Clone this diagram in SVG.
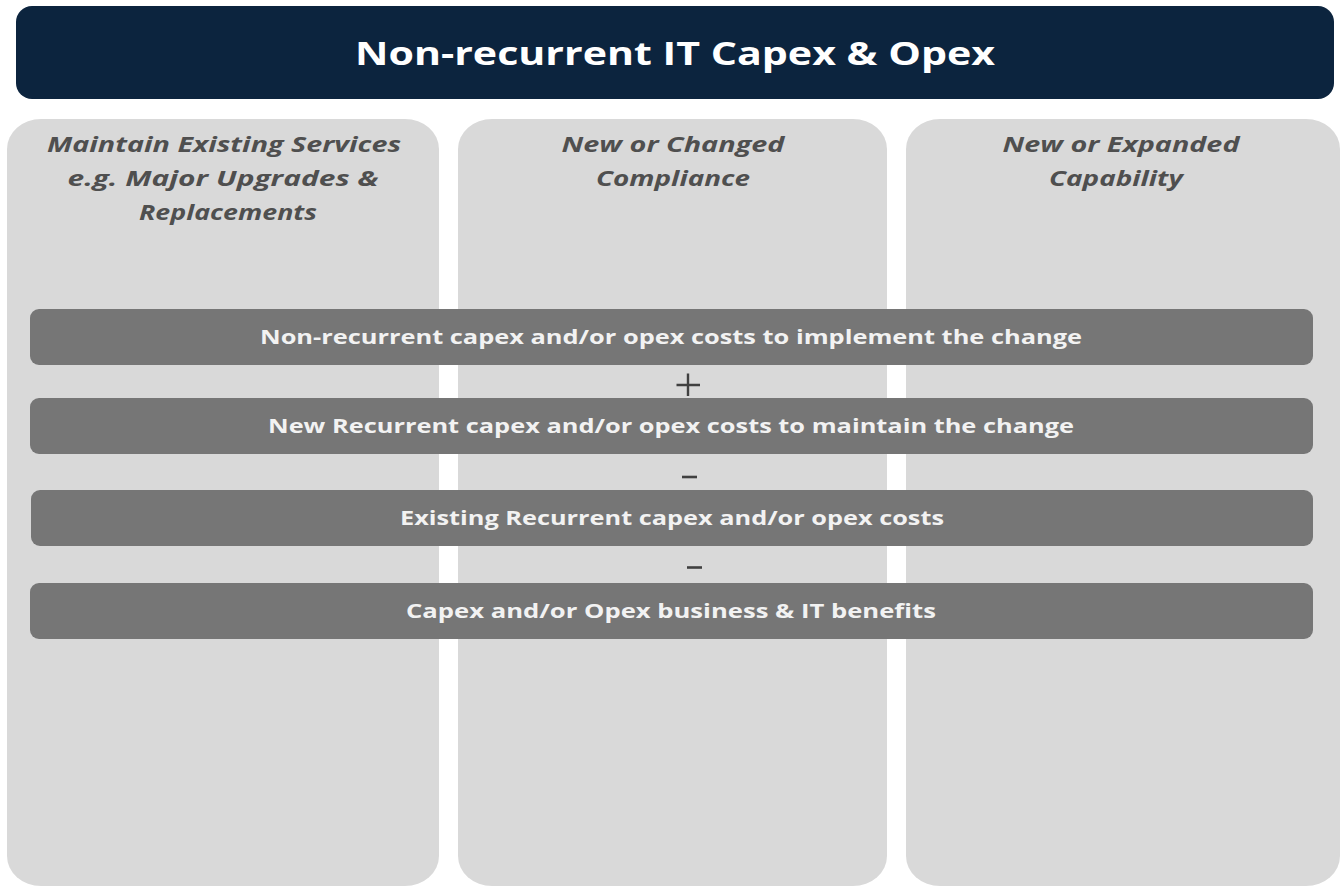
<svg xmlns="http://www.w3.org/2000/svg" width="1344" height="886" viewBox="0 0 1344 886">
  <style>
    .col { fill: #d9d9d9; }
    .col-title { font-family: "Open Sans", "DejaVu Sans", sans-serif; font-size: 22px; font-weight: bold; font-style: italic; fill: #4f4f4f; text-anchor: middle; }
    .bar { fill: #767676; }
    .bar-text { font-family: "Open Sans", "DejaVu Sans", sans-serif; font-size: 20px; font-weight: bold; fill: #f2f2f2; text-anchor: middle; }
  </style>
  <rect width="1344" height="886" fill="#ffffff"/>

  <!-- header banner -->
  <g id="header">
    <rect x="16" y="6" width="1318" height="93" rx="16" ry="16" fill="#0c243e"/>
    <text x="675" y="65" font-family="'Open Sans', 'DejaVu Sans', sans-serif" font-size="33" font-weight="bold" fill="#ffffff" text-anchor="middle" textLength="640" lengthAdjust="spacingAndGlyphs">Non-recurrent IT Capex &amp; Opex</text>
  </g>

  <!-- category columns -->
  <g id="col-maintain">
    <rect class="col" x="7" y="119" width="432" height="767" rx="34" ry="30"/>
    <text class="col-title" x="224" y="152" textLength="354" lengthAdjust="spacingAndGlyphs">Maintain Existing Services</text>
    <text class="col-title" x="223" y="186" textLength="311" lengthAdjust="spacingAndGlyphs">e.g. Major Upgrades &amp;</text>
    <text class="col-title" x="228" y="220" textLength="178" lengthAdjust="spacingAndGlyphs">Replacements</text>
  </g>
  <g id="col-compliance">
    <rect class="col" x="458" y="119" width="429" height="767" rx="34" ry="30"/>
    <text class="col-title" x="673" y="152" textLength="223" lengthAdjust="spacingAndGlyphs">New or Changed</text>
    <text class="col-title" x="673" y="186" textLength="154" lengthAdjust="spacingAndGlyphs">Compliance</text>
  </g>
  <g id="col-capability">
    <rect class="col" x="906" y="119" width="434" height="767" rx="34" ry="30"/>
    <text class="col-title" x="1121" y="152" textLength="237" lengthAdjust="spacingAndGlyphs">New or Expanded</text>
    <text class="col-title" x="1116" y="186" textLength="134" lengthAdjust="spacingAndGlyphs">Capability</text>
  </g>

  <!-- cost bars -->
  <g id="bar-nonrecurrent">
    <rect class="bar" x="30" y="309" width="1283" height="56" rx="9" ry="9"/>
    <text class="bar-text" x="671" y="344" textLength="822" lengthAdjust="spacingAndGlyphs">Non-recurrent capex and/or opex costs to implement the change</text>
  </g>
  <g id="bar-new-recurrent">
    <rect class="bar" x="30" y="398" width="1283" height="56" rx="9" ry="9"/>
    <text class="bar-text" x="671" y="433" textLength="806" lengthAdjust="spacingAndGlyphs">New Recurrent capex and/or opex costs to maintain the change</text>
  </g>
  <g id="bar-existing-recurrent">
    <rect class="bar" x="31" y="490" width="1282" height="56" rx="9" ry="9"/>
    <text class="bar-text" x="672" y="525" textLength="544" lengthAdjust="spacingAndGlyphs">Existing Recurrent capex and/or opex costs</text>
  </g>
  <g id="bar-benefits">
    <rect class="bar" x="30" y="583" width="1283" height="56" rx="9" ry="9"/>
    <text class="bar-text" x="671" y="618" textLength="530" lengthAdjust="spacingAndGlyphs">Capex and/or Opex business &amp; IT benefits</text>
  </g>

  <!-- operators between bars -->
  <g id="operators">
    <path d="M676.5 385 H700 M688 373.5 V396" stroke="#404040" stroke-width="2.4" fill="none"/>
    <path d="M682 477 H697" stroke="#404040" stroke-width="2.6" fill="none"/>
    <path d="M687 567.5 H702" stroke="#404040" stroke-width="2.6" fill="none"/>
  </g>
</svg>
